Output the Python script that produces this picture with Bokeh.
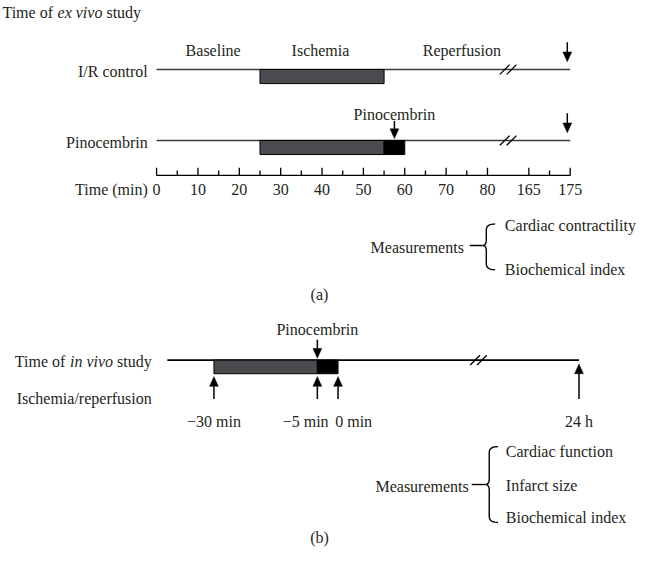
import numpy as np
from bokeh.plotting import figure
from bokeh.models import Range1d
from bokeh.core.properties import value
from bokeh.embed import file_html
from bokeh.resources import INLINE

# ---------------- data ----------------
# (a) ex vivo timeline (minutes)
ex_major_ticks = [0, 10, 20, 30, 40, 50, 60, 70, 80, 165, 175]
ex_minor_ticks = [5, 15, 25, 35, 45, 55, 65, 75, 170]
ex_tick_labels = ["0", "10", "20", "30", "40", "50", "60", "70", "80", "165", "175"]
ex_phase_names = ["Baseline", "Ischemia", "Reperfusion"]
ex_group_names = ["I/R control", "Pinocembrin"]
ex_ischemia = [25, 55]          # ischemia window (min)
ex_pinocembrin = [55, 60]       # pinocembrin window (min)
ex_pino_arrow = 57.5            # pinocembrin given
ex_end = 175                    # end of perfusion / sampling
ex_gap = [80, 165]              # axis break
ex_measurements = ["Cardiac contractility", "Biochemical index"]

# (b) in vivo timeline (minutes relative to reperfusion)
iv_events = [-30, -5, 0]
iv_event_labels = ["\u221230 min", "\u22125 min", "0 min"]
iv_ischemia = [-30, -5]
iv_pinocembrin = [-5, 0]
iv_end_label = "24 h"
iv_measurements = ["Cardiac function", "Infarct size", "Biochemical index"]

# ---------------- layout helpers ----------------
W, H = 638, 554
XR, YR = 654.0, 570.0
SX = XR / W                     # data units per screen px
FONT = value("Liberation Serif")
FS = 16
TXT = "#231f20"
GRAY = "#4a4b4e"
DY = -3                         # global text baseline nudge

PX_PER_MIN = 4.24
EX_X0 = 160.0


def ex_x(t):
    t = np.asarray(t, dtype=float)
    return EX_X0 + PX_PER_MIN * np.where(t > ex_gap[0], t - (ex_gap[1] - ex_gap[0] - 10), t)


IV_X0 = 346.0


def iv_x(t):
    return IV_X0 + PX_PER_MIN * np.asarray(t, dtype=float)


IV_LINE_START = 171.0
IV_END_X = 593.0
IV_BREAK_X = 490.0
IV_LABEL_SHIFT = [0, -12, 16]   # label nudges (layout only)

# Times / Liberation Serif advance widths (per 1000 em)
REG = {" ": 250, "T": 611, "i": 278, "m": 778, "e": 444, "o": 500, "f": 333,
       "s": 389, "t": 278, "u": 500, "d": 500, "y": 500, "n": 500, "v": 500, "x": 500}
ITA = {" ": 250, "e": 444, "x": 444, "v": 444, "i": 278, "o": 500, "n": 500}


def tw(s, table):
    return sum(table.get(c, 500) for c in s) / 1000.0 * FS * SX


p = figure(width=W, height=H, x_range=Range1d(0, XR), y_range=Range1d(YR, 0),
           output_backend="svg", toolbar_location=None, min_border=0,
           outline_line_color=None)
p.xaxis.visible = False
p.yaxis.visible = False
p.grid.visible = False
p.background_fill_color = "white"


def text(x, y, t, align="left", style="normal", size=FS, dy=DY):
    p.text(x=[x], y=[y + dy], text=[t], text_font=FONT, text_font_size=f"{size}px",
           text_font_style=style, text_align=align, text_baseline="alphabetic",
           text_color=TXT)


def rich(x, y, parts, dy=DY):
    space = tw(" ", REG)
    for s, sty in parts:
        text(x, y, s, style=sty, dy=dy)
        x += tw(s, ITA if sty == "italic" else REG) + space


def rich_width(parts):
    space = tw(" ", REG)
    return sum(tw(s, ITA if sty == "italic" else REG) for s, sty in parts) + space * (len(parts) - 1)


def arrow(x, y_tail, y_tip, head_len=10, head_w=9, lw=1.5):
    d = 1 if y_tip > y_tail else -1
    base = y_tip - d * head_len
    p.segment(x0=[x], y0=[y_tail], x1=[x], y1=[base], line_color="black", line_width=lw)
    p.patches(xs=[[x - head_w / 2, x + head_w / 2, x]], ys=[[base, base, y_tip]],
              fill_color="black", line_color="black", line_width=0.5)


def break_mark(x, y, lw=1.3):
    for off in (-3.5, 3.5):
        c = x + off
        p.segment(x0=[c - 5], y0=[y + 5], x1=[c + 5], y1=[y - 5],
                  line_color="black", line_width=lw)


def qb(a, b, c, n=10):
    t = np.linspace(0, 1, n)
    return (1 - t) ** 2 * a + 2 * (1 - t) * t * b + t ** 2 * c


def brace(xv, ytop, ybot, ymid, xdash, hook=9, tip=4, r=6):
    xs, ys = [], []
    xs += list(qb(xv + hook, xv, xv)); ys += list(qb(ytop, ytop, ytop + r))
    xs += list(qb(xv, xv, xv - tip)); ys += list(qb(ymid - r, ymid, ymid))
    xs += list(qb(xv - tip, xv, xv)); ys += list(qb(ymid, ymid, ymid + r))
    xs += list(qb(xv, xv, xv + hook)); ys += list(qb(ybot - r, ybot, ybot))
    p.line(x=xs, y=ys, line_color="black", line_width=1.4)
    p.segment(x0=[xdash], y0=[ymid], x1=[xv - tip], y1=[ymid], line_color="black", line_width=1.4)


# ---------------- (a) ex vivo ----------------
rich(2.0, 12, [("Time of", "normal"), ("ex vivo", "italic"), ("study", "normal")], dy=0)

phase_x = [218, 328, 473]
for name, px in zip(ex_phase_names, phase_x):
    text(px, 54, name, align="center")

row_y = [71, 144]
x_start, x_end = float(ex_x(0)), float(ex_x(ex_end))
gap_x = (float(ex_x(ex_gap[0])) + float(ex_x(ex_gap[1]))) / 2
BOX_H = 14.5
for gi, (name, ry) in enumerate(zip(ex_group_names, row_y)):
    text(151, ry + 5, name, align="right")
    p.segment(x0=[x_start], y0=[ry], x1=[x_end], y1=[ry], line_color="#3c3c3c", line_width=1.6)
    p.quad(left=[float(ex_x(ex_ischemia[0]))], right=[float(ex_x(ex_ischemia[1]))],
           top=[ry], bottom=[ry + BOX_H], fill_color=GRAY, line_color="black", line_width=1)
    if gi == 1:
        p.quad(left=[float(ex_x(ex_pinocembrin[0]))], right=[float(ex_x(ex_pinocembrin[1]))],
               top=[ry], bottom=[ry + BOX_H], fill_color="black", line_color="black", line_width=1)
    break_mark(gap_x, ry)
    arrow(x_end - 3, ry - 28, ry - 8)

# pinocembrin arrow (a)
pa_x = float(ex_x(ex_pino_arrow))
text(pa_x, 120, "Pinocembrin", align="center")
arrow(pa_x, 124, 142)

# time axis
AX_Y = 180
p.segment(x0=[x_start], y0=[AX_Y], x1=[x_end], y1=[AX_Y], line_color="black", line_width=1.3)
mx = ex_x(ex_major_ticks)
p.segment(x0=mx, y0=[AX_Y - 8] * len(mx), x1=mx, y1=[AX_Y] * len(mx), line_color="black", line_width=1.3)
nx = ex_x(ex_minor_ticks)
p.segment(x0=nx, y0=[AX_Y - 5] * len(nx), x1=nx, y1=[AX_Y] * len(nx), line_color="black", line_width=1.3)
p.text(x=list(mx), y=[197 + DY] * len(mx), text=ex_tick_labels, text_font=FONT,
       text_font_size=f"{FS}px", text_align="center", text_baseline="alphabetic", text_color=TXT)
text(151, 197, "Time (min)", align="right")

# measurements (a)
text(475, 257, "Measurements", align="right")
brace(498, 230, 277, 252, 481)
for name, yb in zip(ex_measurements, [235, 280]):
    text(517, yb, name)

text(327, 306, "(a)", align="center")

# ---------------- (b) in vivo ----------------
IV_Y = 370
parts = [("Time of", "normal"), ("in vivo", "italic"), ("study", "normal")]
rich(155 - rich_width(parts), 374, parts)
text(155, 412, "Ischemia/reperfusion", align="right")

p.segment(x0=[IV_LINE_START], y0=[IV_Y], x1=[IV_END_X], y1=[IV_Y], line_color="black", line_width=1.8)
p.quad(left=[float(iv_x(iv_ischemia[0]))], right=[float(iv_x(iv_ischemia[1]))],
       top=[IV_Y], bottom=[IV_Y + 14], fill_color=GRAY, line_color="black", line_width=1)
p.quad(left=[float(iv_x(iv_pinocembrin[0]))], right=[float(iv_x(iv_pinocembrin[1]))],
       top=[IV_Y], bottom=[IV_Y + 14], fill_color="black", line_color="black", line_width=1)
break_mark(IV_BREAK_X, IV_Y)

pb_x = float(iv_x(iv_pinocembrin[0]))
text(pb_x, 342, "Pinocembrin", align="center")
arrow(pb_x, 349, 368)

ev_x = iv_x(iv_events)
for ex, lab, sh in zip(ev_x, iv_event_labels, IV_LABEL_SHIFT):
    arrow(float(ex), 410, 387)
    text(float(ex) + sh, 436, lab, align="center")
arrow(IV_END_X, 410, 374)
text(IV_END_X, 436, iv_end_label, align="center")

# measurements (b)
text(480, 503, "Measurements", align="right")
brace(501, 459, 537, 498, 483)
for name, yb in zip(iv_measurements, [467, 502, 535]):
    text(518, yb, name)

text(327, 556, "(b)", align="center")

open("out.html", "w").write(file_html(p, INLINE))
